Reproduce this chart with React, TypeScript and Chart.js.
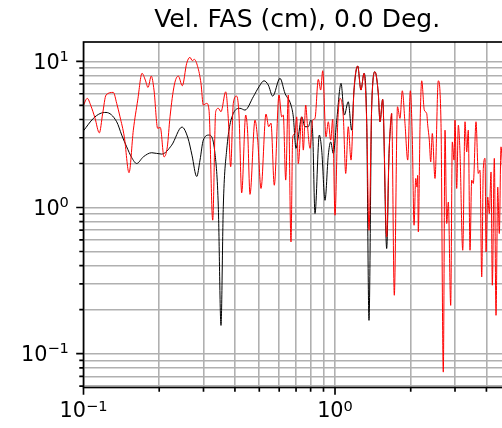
import React, { useEffect, useRef } from 'react';
import { Chart, registerables } from 'chart.js';

Chart.register(...registerables);

const TITLE = 'Vel. FAS (cm), 0.0 Deg.';

const X_MIN = 0.1;
const X_MAX = 5;
const Y_MIN = 0.0587;
const Y_MAX = 13.56;

const X_TICKS = [0.1, 0.2, 0.3, 0.4, 0.5, 0.6, 0.7, 0.8, 0.9, 1, 2, 3, 4, 5];
const Y_TICKS = [0.06, 0.07, 0.08, 0.09, 0.1, 0.2, 0.3, 0.4, 0.5, 0.6, 0.7, 0.8, 0.9, 1, 2, 3, 4, 5, 6, 7, 8, 9, 10];
// major tick labels: base and exponent (drawn as 10 with a raised exponent)
const X_TICK_LABELS = [
  { value: 0.1, base: '10', exp: '\u22121' },
  { value: 1, base: '10', exp: '0' },
];
const Y_TICK_LABELS = [
  { value: 0.1, base: '10', exp: '\u22121' },
  { value: 1, base: '10', exp: '0' },
  { value: 10, base: '10', exp: '1' },
];

const RED_FREQ = [
  0.1, 0.1035, 0.1071, 0.1111, 0.1156, 0.1192, 0.1229, 0.1314, 0.1355, 0.1397,
  0.1453, 0.1517, 0.1578, 0.1643, 0.1709, 0.1761, 0.1805, 0.186, 0.1907, 0.1972,
  0.202, 0.209, 0.2154, 0.2208, 0.2296, 0.2382, 0.2471, 0.2572, 0.2651, 0.2708,
  0.2757, 0.2845, 0.2932, 0.2994, 0.3089, 0.3155, 0.3264, 0.3354, 0.3436, 0.3521,
  0.3676, 0.3764, 0.3848, 0.3941, 0.4065, 0.4152, 0.4256, 0.4415, 0.4497, 0.4592,
  0.4807, 0.4928, 0.508, 0.5316, 0.545, 0.5565, 0.5736, 0.5988, 0.6139, 0.6229,
  0.6368, 0.6521, 0.6683, 0.6789, 0.6933, 0.7042, 0.7145, 0.7373, 0.748, 0.7648,
  0.7759, 0.7955, 0.8153, 0.8326, 0.8582, 0.8772, 0.8935, 0.9209, 0.9404, 0.9614,
  0.979, 1.0, 1.025, 1.047, 1.079, 1.103, 1.129, 1.158, 1.19, 1.231,
  1.268, 1.304, 1.337, 1.365, 1.399, 1.442, 1.486, 1.51, 1.547, 1.605,
  1.64, 1.68, 1.721, 1.772, 1.813, 1.852, 1.898, 1.946, 1.993, 2.03,
  2.062, 2.094, 2.118, 2.132, 2.144, 2.178, 2.212, 2.265, 2.315, 2.337,
  2.371, 2.402, 2.437, 2.498, 2.574, 2.639, 2.695, 2.738, 2.781, 2.822,
  2.884, 2.927, 2.973, 3.0, 3.047, 3.093, 3.141, 3.22, 3.288, 3.34,
  3.388, 3.442, 3.495, 3.547, 3.636, 3.713, 3.772, 3.831, 3.888, 3.949,
  3.986, 4.048, 4.108, 4.172, 4.222, 4.3, 4.367, 4.436, 4.501, 4.571,
  4.7, 4.83, 5.0,
];
const RED_AMP = [
  5.02, 5.58, 4.94, 4.09, 3.24, 4.4, 5.88, 6.13, 5.16, 4.17,
  3.04, 1.73, 3.38, 5.43, 8.28, 7.45, 6.63, 7.93, 6.36, 3.48,
  3.53, 2.22, 2.6, 4.17, 6.88, 7.93, 6.81, 9.69, 10.65, 10.1,
  10.32, 9.18, 7.07, 5.02, 5.16, 4.64, 0.819, 4.52, 4.77, 4.52,
  6.19, 4.07, 1.9, 5.16, 5.78, 4.29, 1.26, 4.29, 3.21, 1.23,
  3.96, 2.89, 1.35, 4.36, 3.57, 3.78, 1.42, 5.88, 4.17, 4.29,
  1.54, 5.88, 0.581, 3.04, 3.21, 4.17, 2.0, 4.17, 2.47, 5.02,
  3.76, 2.54, 3.96, 4.07, 7.53, 6.36, 8.62, 3.04, 3.86, 2.89,
  4.01, 0.886, 3.76, 5.58, 4.17, 1.71, 3.57, 2.11, 6.36, 9.29,
  6.36, 8.28, 3.76, 0.699, 4.89, 8.49, 6.04, 3.86, 5.49, 0.629,
  2.34, 4.4, 0.251, 4.89, 4.07, 6.29, 3.76, 2.11, 6.29, 2.89,
  0.756, 1.58, 1.38, 1.66, 0.681, 3.57, 7.36, 4.64, 4.4, 3.66,
  2.89, 2.05, 3.21, 1.58, 7.36, 3.76, 0.0748, 3.38, 0.777, 1.09,
  0.214, 2.81, 2.11, 3.96, 1.35, 3.66, 2.34, 0.51, 3.86, 2.4,
  3.38, 0.51, 1.54, 1.46, 3.86, 1.71, 1.8, 0.335, 1.85, 2.17,
  0.497, 1.18, 0.91, 1.75, 0.294, 2.17, 0.183, 1.38, 0.664, 2.6,
  1.3, 2.0, 0.9,
];

const BLACK_FREQ = [
  0.1, 0.1094, 0.1163, 0.1229, 0.1355, 0.1419, 0.1485, 0.1554, 0.1627, 0.1729,
  0.1867, 0.2046, 0.2242, 0.2464, 0.2603, 0.27, 0.2819, 0.2906, 0.2994, 0.3155,
  0.3333, 0.3436, 0.3521, 0.3596, 0.3709, 0.3941, 0.419, 0.4386, 0.4732, 0.4986,
  0.522, 0.543, 0.5653, 0.6043, 0.6326, 0.6683, 0.6827, 0.6996, 0.7145, 0.7373,
  0.7598, 0.7833, 0.8008, 0.8153, 0.8326, 0.8662, 0.8853, 0.9125, 0.9404, 0.9614,
  0.9845, 1.016, 1.057, 1.089, 1.129, 1.165, 1.19, 1.231, 1.268, 1.304,
  1.337, 1.365, 1.399, 1.442, 1.486, 1.51, 1.547, 1.605, 1.64, 1.68,
];
const BLACK_AMP = [
  3.35, 4.07, 4.39, 4.47, 3.86, 3.13, 2.6, 2.2, 2.0, 2.22,
  2.37, 2.32, 2.67, 3.55, 2.98, 2.28, 1.63, 2.11, 2.89, 3.13,
  2.34, 1.01, 0.156, 1.01, 2.47, 4.4, 4.77, 4.64, 5.72, 6.7,
  7.36, 6.88, 5.78, 7.65, 6.04, 5.02, 4.17, 2.54, 3.04, 4.17,
  3.57, 3.57, 3.96, 3.21, 0.91, 3.13, 2.47, 1.12, 2.28, 2.81,
  2.34, 3.96, 7.07, 4.29, 5.29, 3.38, 6.36, 9.29, 6.36, 8.28,
  3.76, 0.169, 4.89, 8.49, 6.04, 3.86, 5.49, 0.524, 2.34, 4.4,
];

const FONT = "'DejaVu Sans', sans-serif";
const TICK_FONT_PX = 20.8;
const SUP_FONT_PX = 14.6;

type TickLabel = { value: number; base: string; exp: string };

function findLabel(list: TickLabel[], v: number): TickLabel | undefined {
  return list.find((t) => Math.abs(t.value - v) < 1e-9 * Math.max(1, Math.abs(v)));
}

function drawPow(ctx: CanvasRenderingContext2D, lab: TickLabel, x: number, baseline: number, align: 'center' | 'right', raise: number) {
  ctx.font = `${TICK_FONT_PX}px ${FONT}`;
  const wb = ctx.measureText(lab.base).width;
  ctx.font = `${SUP_FONT_PX}px ${FONT}`;
  const we = ctx.measureText(lab.exp).width;
  const total = wb + we;
  const left = align === 'center' ? x - total / 2 : x - total;
  ctx.textAlign = 'left';
  ctx.textBaseline = 'alphabetic';
  ctx.font = `${TICK_FONT_PX}px ${FONT}`;
  ctx.fillText(lab.base, left, baseline);
  ctx.font = `${SUP_FONT_PX}px ${FONT}`;
  ctx.fillText(lab.exp, left + wb, baseline - raise);
}

const framePlugin = {
  id: 'mplFrame',
  afterDraw(chart: any) {
    const { ctx, chartArea: a } = chart;
    const xs = chart.scales.x;
    const ys = chart.scales.y;
    ctx.save();
    ctx.strokeStyle = '#000000';
    ctx.lineWidth = 1.67;
    ctx.lineCap = 'butt';
    ctx.beginPath();
    for (const v of X_TICKS) {
      const p = xs.getPixelForValue(v);
      const len = findLabel(X_TICK_LABELS, v) ? 7.3 : 4.2;
      ctx.moveTo(p, a.bottom);
      ctx.lineTo(p, a.bottom + len);
    }
    for (const v of Y_TICKS) {
      const p = ys.getPixelForValue(v);
      const len = findLabel(Y_TICK_LABELS, v) ? 7.3 : 4.2;
      ctx.moveTo(a.left, p);
      ctx.lineTo(a.left - len, p);
    }
    ctx.stroke();
    ctx.strokeRect(a.left, a.top, a.right - a.left, a.bottom - a.top);

    ctx.fillStyle = '#000000';
    for (const lab of X_TICK_LABELS) {
      const p = xs.getPixelForValue(lab.value);
      drawPow(ctx, lab, p, a.bottom + 29.8, 'center', 6.8);
    }
    for (const lab of Y_TICK_LABELS) {
      const p = ys.getPixelForValue(lab.value);
      drawPow(ctx, lab, a.left - 14.6, p + 7.2, 'right', 7.6);
    }
    ctx.restore();
  },
};

export default function App() {
  const ref = useRef<HTMLCanvasElement | null>(null);

  useEffect(() => {
    document.body.style.margin = '0';
    const canvas = ref.current;
    if (!canvas) return;
    Chart.defaults.font.family = FONT;
    const chart = new Chart(canvas, {
      type: 'line',
      data: {
        datasets: [
          {
            label: 'red',
            data: RED_FREQ.map((f, i) => ({ x: f, y: RED_AMP[i] })),
            borderColor: '#ff0000',
            borderWidth: 1,
            pointRadius: 0,
            fill: false,
            cubicInterpolationMode: 'monotone',
          },
          {
            label: 'black',
            data: BLACK_FREQ.map((f, i) => ({ x: f, y: BLACK_AMP[i] })),
            borderColor: '#000000',
            borderWidth: 1,
            pointRadius: 0,
            fill: false,
            cubicInterpolationMode: 'monotone',
          },
        ],
      },
      options: {
        animation: false,
        responsive: false,
        devicePixelRatio: 1,
        events: [],
        layout: { padding: { left: 0, right: 9.2, top: 0, bottom: 0 } },
        plugins: {
          legend: { display: false },
          tooltip: { enabled: false },
          title: {
            display: true,
            text: TITLE,
            fullSize: false,
            color: '#000000',
            font: { family: FONT, size: 25, weight: 'normal', lineHeight: 1.2 },
            padding: { top: 5.2, bottom: 6.8 },
          },
        },
        scales: {
          x: {
            type: 'logarithmic',
            min: X_MIN,
            max: X_MAX,
            afterBuildTicks: (scale: any) => {
              scale.ticks = X_TICKS.map((v) => ({ value: v }));
            },
            afterFit: (scale: any) => {
              scale.height = 40.5;
            },
            ticks: { display: false, autoSkip: false, maxRotation: 0, minRotation: 0 },
            grid: { color: '#b0b0b0', lineWidth: 1.6, drawTicks: false },
            border: { display: false },
          },
          y: {
            type: 'logarithmic',
            min: Y_MIN,
            max: Y_MAX,
            afterBuildTicks: (scale: any) => {
              scale.ticks = Y_TICKS.map((v) => ({ value: v }));
            },
            afterFit: (scale: any) => {
              scale.width = 83.5;
            },
            ticks: { display: false, autoSkip: false },
            grid: { color: '#b0b0b0', lineWidth: 1.6, drawTicks: false },
            border: { display: false },
          },
        },
      },
      plugins: [framePlugin],
    });
    return () => chart.destroy();
  }, []);

  return (
    <div style={{ width: 502, height: 428, overflow: 'hidden', position: 'relative' }}>
      <canvas ref={ref} width={520} height={428} style={{ display: 'block', width: 520, height: 428 }} />
    </div>
  );
}
